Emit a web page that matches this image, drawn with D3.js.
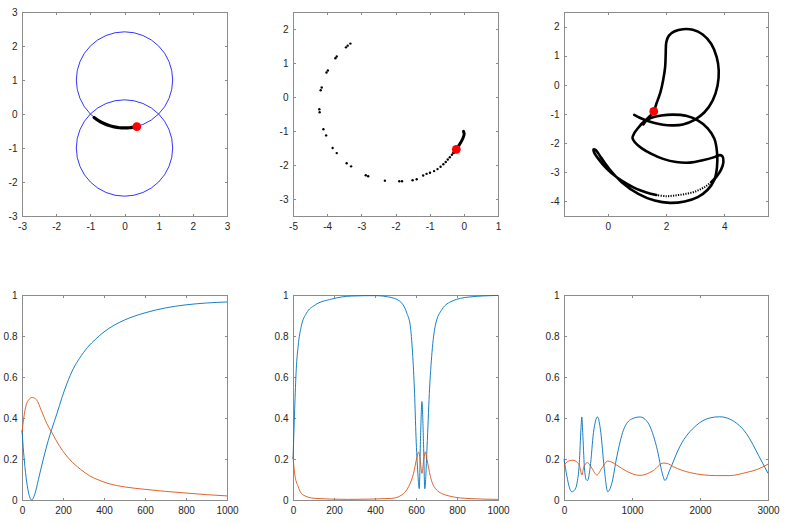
<!DOCTYPE html>
<html>
<head>
<meta charset="utf-8">
<script src="https://cdn.jsdelivr.net/npm/d3@7"></script>
<style>
body { margin: 0; background: #fff; }
.axis text { font-family: Helvetica, "Liberation Sans", Arial, sans-serif; font-size: 10px; fill: #262626; }
.axis line { stroke: #8c8c8c; stroke-width: 1; shape-rendering: crispEdges; }
.axis path { display: none; }
.frame { fill: none; stroke: #8c8c8c; stroke-width: 1; shape-rendering: crispEdges; }
</style>
</head>
<body>
<div id="chart-area"></div>
<script>

// DATA

// panel 1: two circles (center x, center y, radius) and the trail ending at the red point
var circles1 = [[0, 1, 1.41], [0, -1, 1.41]];
var trail1 = [[-0.89, -0.10], [-0.75, -0.20], [-0.60, -0.28], [-0.45, -0.34], [-0.30, -0.38],
    [-0.15, -0.405], [0, -0.41], [0.15, -0.405], [0.25, -0.39], [0.36, -0.37]];
var head1 = [0.36, -0.37];

// panel 2: sampled points, the dense tail and the red point
var dots2 = [[-3.32, 1.57], [-3.40, 1.51], [-3.45, 1.46], [-3.72, 1.19], [-3.76, 1.14], [-3.98, 0.78],
    [-4.02, 0.72], [-4.16, 0.28], [-4.19, 0.20], [-4.23, -0.36], [-4.22, -0.45], [-4.11, -0.95],
    [-4.03, -1.13], [-3.84, -1.50], [-3.72, -1.65], [-3.43, -1.95], [-3.30, -2.04], [-2.87, -2.30],
    [-2.80, -2.33], [-2.31, -2.46], [-1.89, -2.48], [-1.81, -2.48], [-1.50, -2.45], [-1.38, -2.42],
    [-1.19, -2.31], [-1.09, -2.26], [-0.99, -2.23], [-0.87, -2.18], [-0.77, -2.12], [-0.68, -2.05],
    [-0.60, -1.98], [-0.53, -1.91], [-0.47, -1.84], [-0.41, -1.77], [-0.35, -1.70]];
var trail2 = [[-0.30, -1.64], [-0.22, -1.54], [-0.11, -1.37], [-0.03, -1.22], [0.01, -1.09], [-0.01, -1.01]];
var head2 = [-0.22, -1.54];

// panel 3: trail (solid part, sparse part, solid part) and the red point
var trail3a = [[0.91, -1.03], [1.10, -1.13], [1.33, -1.22], [1.61, -1.31], [1.90, -1.37], [2.24, -1.39],
    [2.58, -1.36], [2.98, -1.20], [3.32, -0.94], [3.60, -0.54], [3.77, -0.02], [3.81, 0.49],
    [3.74, 0.95], [3.55, 1.41], [3.26, 1.73], [2.92, 1.89], [2.58, 1.91], [2.30, 1.84],
    [2.10, 1.69], [2.01, 1.46], [1.99, 1.06], [1.97, 0.61], [1.90, 0.15], [1.81, -0.25],
    [1.67, -0.65], [1.58, -0.91], [1.47, -1.05], [1.33, -1.19], [1.19, -1.31], [1.05, -1.47],
    [0.91, -1.66], [0.85, -1.82], [0.93, -1.97], [1.16, -2.17], [1.50, -2.37], [1.90, -2.54],
    [2.35, -2.65], [2.81, -2.67], [3.26, -2.59], [3.66, -2.48], [3.85, -2.41], [3.94, -2.46],
    [3.97, -2.65], [3.89, -2.91], [3.74, -3.14], [3.55, -3.34]];
var trail3sparse = [[3.55, -3.34], [3.32, -3.51], [3.03, -3.65], [2.69, -3.74], [2.35, -3.79],
    [2.01, -3.82], [1.67, -3.78]];
var trail3b = [[1.67, -3.78], [1.33, -3.69], [0.99, -3.57], [0.65, -3.39], [0.31, -3.17],
    [-0.03, -2.88], [-0.32, -2.54], [-0.47, -2.31], [-0.49, -2.22], [-0.41, -2.24], [-0.24, -2.48],
    [0.05, -2.88], [0.48, -3.34], [1.05, -3.74], [1.61, -3.97], [2.13, -4.05], [2.64, -4.00],
    [3.09, -3.85], [3.43, -3.60], [3.66, -3.26], [3.75, -2.82], [3.75, -2.31], [3.66, -1.85],
    [3.43, -1.49], [3.09, -1.22], [2.69, -1.06], [2.24, -1.02], [1.84, -1.05], [1.50, -1.13],
    [1.33, -1.22], [1.22, -1.36]];
var head3 = [1.58, -0.91];

// bottom panels: [t, value]
var blue4 = [[0, 0.34], [8, 0.23], [20, 0.11], [31, 0.04], [47, 0.0], [63, 0.03], [80, 0.10],
    [104, 0.20], [128, 0.29], [145, 0.345], [170, 0.42], [195, 0.50], [220, 0.57], [250, 0.64],
    [280, 0.69], [320, 0.745], [360, 0.785], [400, 0.82], [450, 0.853], [500, 0.878], [600, 0.913],
    [700, 0.937], [800, 0.952], [900, 0.961], [1000, 0.966]];
var orange4 = [[0, 0.33], [15, 0.44], [30, 0.485], [50, 0.50], [70, 0.49], [95, 0.435], [120, 0.375],
    [145, 0.33], [185, 0.26], [235, 0.195], [285, 0.15], [330, 0.118], [380, 0.095], [430, 0.078],
    [500, 0.064], [600, 0.052], [700, 0.042], [800, 0.034], [900, 0.026], [1000, 0.02]];

var blue5 = [[0, 0.20], [4, 0.32], [8, 0.44], [16, 0.64], [25, 0.75], [41, 0.85], [65, 0.91],
    [106, 0.95], [188, 0.98], [286, 0.995], [400, 0.997], [482, 0.987], [531, 0.96], [556, 0.91],
    [572, 0.85], [583, 0.72], [593, 0.52], [600, 0.31], [609, 0.13], [616, 0.055], [622, 0.30],
    [629, 0.48], [636, 0.30], [643, 0.055], [654, 0.26], [665, 0.52], [678, 0.72], [694, 0.85],
    [727, 0.93], [776, 0.97], [858, 0.99], [1000, 0.998]];
var orange5 = [[0, 0.21], [8, 0.13], [25, 0.065], [49, 0.025], [106, 0.008], [270, 0.003],
    [482, 0.008], [531, 0.025], [564, 0.065], [588, 0.13], [605, 0.21], [613, 0.235], [621, 0.19],
    [629, 0.13], [637, 0.19], [645, 0.235], [654, 0.196], [670, 0.115], [694, 0.057], [743, 0.025],
    [841, 0.008], [1000, 0.003]];

var blue6 = [[0, 0.20], [44, 0.114], [80, 0.06], [117, 0.04], [160, 0.05], [190, 0.08], [225, 0.18],
    [250, 0.35], [262, 0.405], [275, 0.33], [300, 0.16], [325, 0.10], [346, 0.095], [385, 0.16],
    [434, 0.33], [493, 0.405], [541, 0.33], [590, 0.16], [644, 0.04], [702, 0.08], [776, 0.21],
    [873, 0.34], [995, 0.395], [1117, 0.405], [1239, 0.375], [1361, 0.26], [1459, 0.114],
    [1483, 0.095], [1556, 0.147], [1702, 0.26], [1946, 0.364], [2141, 0.40], [2288, 0.406],
    [2483, 0.387], [2678, 0.326], [2873, 0.21], [3000, 0.13]];
var orange6 = [[0, 0.17], [68, 0.19], [132, 0.194], [190, 0.185], [230, 0.165], [263, 0.122],
    [290, 0.16], [312, 0.175], [346, 0.182], [410, 0.155], [483, 0.122], [556, 0.155], [644, 0.19],
    [700, 0.185], [776, 0.17], [922, 0.14], [1117, 0.12], [1312, 0.143], [1459, 0.18], [1520, 0.178],
    [1605, 0.163], [1849, 0.134], [2239, 0.119], [2434, 0.119], [2678, 0.134], [2850, 0.15],
    [3000, 0.175]];

// tick labels
var ticks1 = [-3, -2, -1, 0, 1, 2, 3];
var ticks2x = [-5, -4, -3, -2, -1, 0, 1];
var ticks2y = [-3, -2, -1, 0, 1, 2];
var ticks3x = [0, 2, 4];
var ticks3y = [-4, -3, -2, -1, 0, 1, 2];
var ticksT1000 = [0, 200, 400, 600, 800, 1000];
var ticksT3000 = [0, 1000, 2000, 3000];
var ticksP = [0, 0.2, 0.4, 0.6, 0.8, 1];

// SVG drawing area
var width = 789,
    height = 523;

var svg = d3.select("#chart-area").append("svg")
    .attr("width", width)
    .attr("height", height);

var BLUE = "#0072bd", ORANGE = "#d95319";

// one axes box with inward ticks on all four sides
function makePanel(box, xDomain, yDomain, xTicks, yTicks) {
    var g = svg.append("g")
        .attr("transform", "translate(" + box.left + "," + box.top + ")");

    var x = d3.scaleLinear().domain(xDomain).range([0, box.w]);
    var y = d3.scaleLinear().domain(yDomain).range([box.h, 0]);

    g.append("g")
        .attr("class", "axis")
        .attr("transform", "translate(0," + box.h + ")")
        .call(d3.axisBottom(x).tickValues(xTicks).tickFormat(String)
            .tickSizeInner(-2.5).tickSizeOuter(0).tickPadding(6.5));

    g.append("g")
        .attr("class", "axis")
        .call(d3.axisLeft(y).tickValues(yTicks).tickFormat(String)
            .tickSizeInner(-2.5).tickSizeOuter(0).tickPadding(4.5));

    g.append("g")
        .attr("class", "axis")
        .call(d3.axisTop(x).tickValues(xTicks).tickFormat("")
            .tickSizeInner(-2.5).tickSizeOuter(0));

    g.append("g")
        .attr("class", "axis")
        .attr("transform", "translate(" + box.w + ",0)")
        .call(d3.axisRight(y).tickValues(yTicks).tickFormat("")
            .tickSizeInner(-2.5).tickSizeOuter(0));

    g.append("rect")
        .attr("class", "frame")
        .attr("x", 0.5)
        .attr("y", 0.5)
        .attr("width", box.w)
        .attr("height", box.h);

    return {g: g, x: x, y: y};
}

function trailLine(p) {
    return d3.line()
        .x(function(d) { return p.x(d[0]); })
        .y(function(d) { return p.y(d[1]); })
        .curve(d3.curveCatmullRom.alpha(0.5));
}

function seriesLine(p) {
    return d3.line()
        .x(function(d) { return p.x(d[0]); })
        .y(function(d) { return p.y(d[1]); })
        .curve(d3.curveMonotoneX);
}

function redDot(p, pt) {
    p.g.append("circle")
        .attr("cx", p.x(pt[0]))
        .attr("cy", p.y(pt[1]))
        .attr("r", 4.4)
        .attr("fill", "#ff0000");
}

//TOP ROW
var p1 = makePanel({left: 22, top: 12, w: 205, h: 204}, [-3, 3], [-3, 3], ticks1, ticks1);

p1.g.selectAll(".ring")
    .data(circles1)
    .enter().append("circle")
    .attr("class", "ring")
    .attr("cx", function(d) { return p1.x(d[0]); })
    .attr("cy", function(d) { return p1.y(d[1]); })
    .attr("r", function(d) { return p1.x(d[2]) - p1.x(0); })
    .attr("fill", "none")
    .attr("stroke", "#0000ff")
    .attr("stroke-width", 0.8);

p1.g.append("path")
    .attr("d", trailLine(p1)(trail1))
    .attr("fill", "none")
    .attr("stroke", "#000")
    .attr("stroke-width", 3.2)
    .attr("stroke-linecap", "round");
redDot(p1, head1);

var p2 = makePanel({left: 293, top: 12, w: 205, h: 204}, [-5, 1], [-3.5, 2.5], ticks2x, ticks2y);

p2.g.selectAll(".dot")
    .data(dots2)
    .enter().append("circle")
    .attr("class", "dot")
    .attr("cx", function(d) { return p2.x(d[0]); })
    .attr("cy", function(d) { return p2.y(d[1]); })
    .attr("r", 1.2)
    .attr("fill", "#000");

p2.g.append("path")
    .attr("d", trailLine(p2)(trail2))
    .attr("fill", "none")
    .attr("stroke", "#000")
    .attr("stroke-width", 3)
    .attr("stroke-linecap", "round");
redDot(p2, head2);

var p3 = makePanel({left: 564, top: 12, w: 204, h: 204}, [-1.5, 5.5], [-4.5, 2.5], ticks3x, ticks3y);

[trail3a, trail3b].forEach(function(seg) {
    p3.g.append("path")
        .attr("d", trailLine(p3)(seg))
        .attr("fill", "none")
        .attr("stroke", "#000")
        .attr("stroke-width", 2.6)
        .attr("stroke-linecap", "round");
});
p3.g.append("path")
    .attr("d", trailLine(p3)(trail3sparse))
    .attr("fill", "none")
    .attr("stroke", "#000")
    .attr("stroke-width", 2)
    .attr("stroke-dasharray", "1.2,1.3");
redDot(p3, head3);

//BOTTOM ROW
var bottom = [
    {box: {left: 22, top: 295, w: 205, h: 205}, xmax: 1000, xt: ticksT1000, blue: blue4, orange: orange4},
    {box: {left: 293, top: 295, w: 205, h: 205}, xmax: 1000, xt: ticksT1000, blue: blue5, orange: orange5},
    {box: {left: 564, top: 295, w: 204, h: 205}, xmax: 3000, xt: ticksT3000, blue: blue6, orange: orange6}
];

bottom.forEach(function(b) {
    var p = makePanel(b.box, [0, b.xmax], [0, 1], b.xt, ticksP);
    p.g.append("path")
        .attr("d", seriesLine(p)(b.blue))
        .attr("fill", "none")
        .attr("stroke", BLUE)
        .attr("stroke-width", 0.9);
    p.g.append("path")
        .attr("d", seriesLine(p)(b.orange))
        .attr("fill", "none")
        .attr("stroke", ORANGE)
        .attr("stroke-width", 0.9);
});
</script>
</body>
</html>
